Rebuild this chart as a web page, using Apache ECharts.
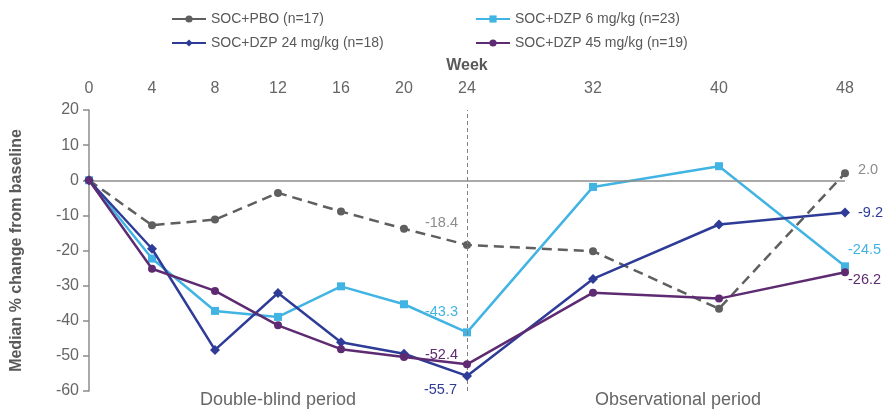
<!DOCTYPE html>
<html>
<head>
<meta charset="utf-8">
<script src="https://cdn.jsdelivr.net/npm/echarts@6/dist/echarts.min.js"></script>
<style>
  html, body { margin: 0; padding: 0; background: #fff; }
  #chart { width: 884px; height: 413px; }
</style>
</head>
<body>
<div id="chart"></div>
<script>
// Study weeks and median % change from baseline per arm
const weeks = [0, 4, 8, 12, 16, 20, 24, 32, 40, 48];
const tickWeeks = [0, 4, 8, 12, 16, 20, 24, 32, 40, 48];
const pbo = [0, -12.8, -11.2, -3.6, -8.9, -13.8, -18.4, -20.2, -36.6, 2.0];
const dzp6 = [0, -22.3, -37.2, -38.9, -30.2, -35.3, -43.3, -1.9, 4.0, -24.5];
const dzp24 = [0, -19.5, -48.3, -32.1, -46.1, -49.4, -55.7, -28.1, -12.6, -9.2];
const dzp45 = [0, -25.2, -31.5, -41.3, -48.1, -50.3, -52.4, -32.0, -33.7, -26.2];
const seriesNames = [
  'SOC+PBO (n=17)',
  'SOC+DZP 6 mg/kg (n=23)',
  'SOC+DZP 24 mg/kg (n=18)',
  'SOC+DZP 45 mg/kg (n=19)'
];
const periodLabels = ['Double-blind period', 'Observational period'];

const FONT = '"Liberation Sans", Arial, sans-serif';
const GREY = '#595959';
const TICK_GREY = '#666666';

// Builds data points; weeks 24 and 48 carry value labels
function buildData(values, color, lab24, lab48) {
  return weeks.map((w, i) => {
    const item = { value: [w, values[i]] };
    const cfg = w === 24 ? lab24 : (w === 48 ? lab48 : null);
    if (cfg) {
      item.label = {
        show: true,
        position: cfg.pos,
        offset: cfg.off,
        color: cfg.color || color,
        fontSize: 14.5,
        fontFamily: FONT,
        formatter: () => values[i].toFixed(1)
      };
    }
    return item;
  });
}

const chart = echarts.init(document.getElementById('chart'));

function legendAt(name, left, top) {
  return {
    data: [name],
    left: left,
    top: top,
    itemWidth: 34,
    itemHeight: 9,
    itemGap: 4,
    lineStyle: { type: 'solid' },
    textStyle: { fontSize: 14, color: GREY, fontFamily: FONT },
    selectedMode: false
  };
}

chart.setOption({
  animation: false,
  backgroundColor: '#fff',
  legend: [
    legendAt(seriesNames[0], 166, 7),
    legendAt(seriesNames[1], 470, 7),
    legendAt(seriesNames[2], 166, 31),
    legendAt(seriesNames[3], 470, 31)
  ],
  grid: { left: 89, right: 39, top: 110, bottom: 22 },
  xAxis: {
    type: 'value',
    position: 'top',
    min: 0,
    max: 48,
    interval: 4,
    name: 'Week',
    nameLocation: 'middle',
    nameGap: 36,
    nameTextStyle: { fontSize: 16, fontWeight: 'bold', color: GREY, fontFamily: FONT },
    axisLine: { show: false },
    axisTick: { show: false },
    splitLine: { show: false },
    axisLabel: {
      fontSize: 16,
      color: TICK_GREY,
      fontFamily: FONT,
      margin: 13,
      formatter: v => tickWeeks.indexOf(v) >= 0 ? String(v) : ''
    }
  },
  yAxis: {
    type: 'value',
    min: -60,
    max: 20,
    interval: 10,
    name: 'Median % change from baseline',
    nameLocation: 'middle',
    nameGap: 64,
    nameTextStyle: { fontSize: 16, fontWeight: 'bold', color: GREY, fontFamily: FONT },
    axisLine: { show: true, onZero: false, lineStyle: { color: '#8c8c8c', width: 1.5 } },
    axisTick: { show: true, length: 6, lineStyle: { color: '#8c8c8c', width: 1.5 } },
    splitLine: { show: false },
    axisLabel: { fontSize: 16, color: TICK_GREY, fontFamily: FONT, margin: 10 }
  },
  graphic: [
    {
      type: 'text', x: 278, y: 400,
      style: { text: periodLabels[0], fontSize: 18, fill: TICK_GREY, fontFamily: FONT, align: 'center', verticalAlign: 'middle' }
    },
    {
      type: 'text', x: 678, y: 400,
      style: { text: periodLabels[1], fontSize: 18, fill: TICK_GREY, fontFamily: FONT, align: 'center', verticalAlign: 'middle' }
    }
  ],
  series: [
    {
      name: seriesNames[0],
      type: 'line',
      z: 3,
      symbol: 'circle',
      symbolSize: 8,
      color: '#5f5f5f',
      lineStyle: { width: 2.5, type: [10, 6], color: '#5f5f5f' },
      itemStyle: { color: '#5f5f5f' },
      data: buildData(pbo, '#8c8c8c',
        { pos: 'left', off: [0, -22] },
        { pos: 'right', off: [4, -3] }),
      markLine: {
        silent: true,
        symbol: 'none',
        label: { show: false },
        data: [
          { yAxis: 0, lineStyle: { type: 'solid', color: '#8c8c8c', width: 1.5 } },
          { xAxis: 24, lineStyle: { type: [4, 3], color: '#7f7f7f', width: 1 } }
        ]
      }
    },
    {
      name: seriesNames[1],
      type: 'line',
      z: 4,
      symbol: 'rect',
      symbolSize: 8,
      color: '#41b4e3',
      lineStyle: { width: 2.5, color: '#41b4e3' },
      itemStyle: { color: '#41b4e3' },
      data: buildData(dzp6, '#41b4e3',
        { pos: 'left', off: [0, -20] },
        { pos: 'right', off: [-6, -16] })
    },
    {
      name: seriesNames[2],
      type: 'line',
      z: 5,
      symbol: 'diamond',
      symbolSize: 10,
      color: '#2e3c97',
      lineStyle: { width: 2.5, color: '#2e3c97' },
      itemStyle: { color: '#2e3c97' },
      data: buildData(dzp24, '#2e3c97',
        { pos: 'left', off: [0, 14] },
        { pos: 'right', off: [3, 0] })
    },
    {
      name: seriesNames[3],
      type: 'line',
      z: 6,
      symbol: 'circle',
      symbolSize: 8,
      color: '#5e2b72',
      lineStyle: { width: 2.5, color: '#5e2b72' },
      itemStyle: { color: '#5e2b72' },
      data: buildData(dzp45, '#5e2b72',
        { pos: 'left', off: [0, -9] },
        { pos: 'right', off: [-6, 8] })
    }
  ]
});
</script>
</body>
</html>
